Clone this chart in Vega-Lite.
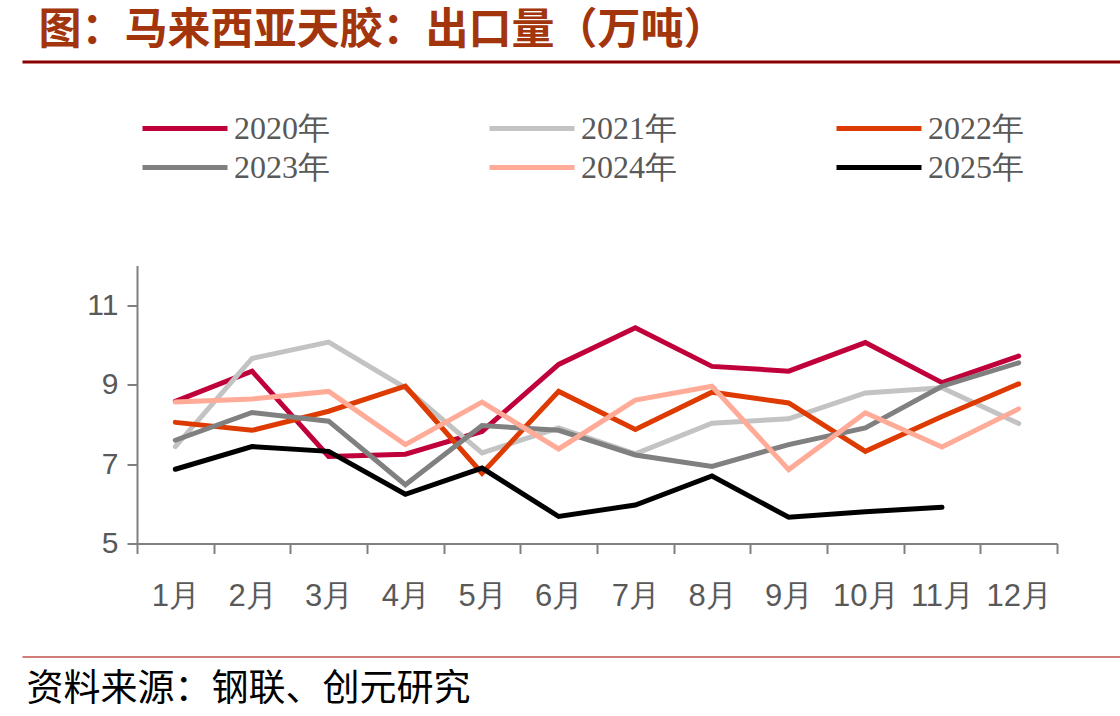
{
  "$schema": "https://vega.github.io/schema/vega-lite/v6.json",
  "width": 920,
  "height": 278,
  "autosize": {"type": "none"},
  "padding": {"left": 137, "top": 265.5, "right": 63, "bottom": 172.5},
  "background": "white",
  "config": {"view": {"stroke": null}},
  "data": {
    "values": [
      {"month": "1月", "year": "2020年", "value": 8.58},
      {"month": "2月", "year": "2020年", "value": 9.34},
      {"month": "3月", "year": "2020年", "value": 7.19},
      {"month": "4月", "year": "2020年", "value": 7.25},
      {"month": "5月", "year": "2020年", "value": 7.82},
      {"month": "6月", "year": "2020年", "value": 9.51},
      {"month": "7月", "year": "2020年", "value": 10.43},
      {"month": "8月", "year": "2020年", "value": 9.46},
      {"month": "9月", "year": "2020年", "value": 9.34},
      {"month": "10月", "year": "2020年", "value": 10.06},
      {"month": "11月", "year": "2020年", "value": 9.05},
      {"month": "12月", "year": "2020年", "value": 9.72},
      {"month": "1月", "year": "2021年", "value": 7.44},
      {"month": "2月", "year": "2021年", "value": 9.66},
      {"month": "3月", "year": "2021年", "value": 10.07},
      {"month": "4月", "year": "2021年", "value": 8.92},
      {"month": "5月", "year": "2021年", "value": 7.28},
      {"month": "6月", "year": "2021年", "value": 7.91},
      {"month": "7月", "year": "2021年", "value": 7.26},
      {"month": "8月", "year": "2021年", "value": 8.03},
      {"month": "9月", "year": "2021年", "value": 8.14},
      {"month": "10月", "year": "2021年", "value": 8.79},
      {"month": "11月", "year": "2021年", "value": 8.92},
      {"month": "12月", "year": "2021年", "value": 8.02},
      {"month": "1月", "year": "2022年", "value": 8.05},
      {"month": "2月", "year": "2022年", "value": 7.85},
      {"month": "3月", "year": "2022年", "value": 8.33},
      {"month": "4月", "year": "2022年", "value": 8.96},
      {"month": "5月", "year": "2022年", "value": 6.77},
      {"month": "6月", "year": "2022年", "value": 8.83},
      {"month": "7月", "year": "2022年", "value": 7.87},
      {"month": "8月", "year": "2022年", "value": 8.81},
      {"month": "9月", "year": "2022年", "value": 8.54},
      {"month": "10月", "year": "2022年", "value": 7.32},
      {"month": "11月", "year": "2022年", "value": 8.2},
      {"month": "12月", "year": "2022年", "value": 9.02},
      {"month": "1月", "year": "2023年", "value": 7.6},
      {"month": "2月", "year": "2023年", "value": 8.3},
      {"month": "3月", "year": "2023年", "value": 8.08},
      {"month": "4月", "year": "2023年", "value": 6.48},
      {"month": "5月", "year": "2023年", "value": 7.97},
      {"month": "6月", "year": "2023年", "value": 7.85},
      {"month": "7月", "year": "2023年", "value": 7.23},
      {"month": "8月", "year": "2023年", "value": 6.94},
      {"month": "9月", "year": "2023年", "value": 7.49},
      {"month": "10月", "year": "2023年", "value": 7.91},
      {"month": "11月", "year": "2023年", "value": 8.96},
      {"month": "12月", "year": "2023年", "value": 9.55},
      {"month": "1月", "year": "2024年", "value": 8.56},
      {"month": "2月", "year": "2024年", "value": 8.64},
      {"month": "3月", "year": "2024年", "value": 8.83},
      {"month": "4月", "year": "2024年", "value": 7.49},
      {"month": "5月", "year": "2024年", "value": 8.56},
      {"month": "6月", "year": "2024年", "value": 7.38},
      {"month": "7月", "year": "2024年", "value": 8.61},
      {"month": "8月", "year": "2024年", "value": 8.96},
      {"month": "9月", "year": "2024年", "value": 6.86},
      {"month": "10月", "year": "2024年", "value": 8.29},
      {"month": "11月", "year": "2024年", "value": 7.43},
      {"month": "12月", "year": "2024年", "value": 8.39},
      {"month": "1月", "year": "2025年", "value": 6.87},
      {"month": "2月", "year": "2025年", "value": 7.44},
      {"month": "3月", "year": "2025年", "value": 7.32},
      {"month": "4月", "year": "2025年", "value": 6.24},
      {"month": "5月", "year": "2025年", "value": 6.9},
      {"month": "6月", "year": "2025年", "value": 5.68},
      {"month": "7月", "year": "2025年", "value": 5.97},
      {"month": "8月", "year": "2025年", "value": 6.7},
      {"month": "9月", "year": "2025年", "value": 5.66},
      {"month": "10月", "year": "2025年", "value": 5.8},
      {"month": "11月", "year": "2025年", "value": 5.91}
    ]
  },
  "resolve": {"scale": {"x": "independent"}, "axis": {"x": "independent"}},
  "layer": [
    {
      "mark": {"type": "line", "strokeWidth": 5, "strokeJoin": "miter", "strokeCap": "round"},
      "encoding": {
        "x": {
          "field": "month",
          "type": "ordinal",
          "bandPosition": 0.5,
          "scale": {"type": "band", "domain": ["1月","2月","3月","4月","5月","6月","7月","8月","9月","10月","11月","12月"], "paddingInner": 0, "paddingOuter": 0},
          "axis": {
            "title": null,
            "labelAngle": 0,
            "tickBand": "extent",
            "tickSize": 10,
            "tickWidth": 2,
            "tickColor": "#808080",
            "domainColor": "#808080",
            "domainWidth": 2,
            "labelFont": "Liberation Sans",
            "labelFontSize": 31,
            "labelColor": "#595959",
            "labelPadding": 28,
            "labelOverlap": false,
            "grid": false
          }
        },
        "y": {
          "field": "value",
          "type": "quantitative",
          "scale": {"domain": [5, 12], "nice": false, "zero": false},
          "axis": {
            "title": null,
            "values": [5, 7, 9, 11],
            "tickSize": 10,
            "tickWidth": 2,
            "tickColor": "#808080",
            "domainColor": "#808080",
            "domainWidth": 2,
            "labelFont": "Liberation Sans",
            "labelFontSize": 30,
            "labelColor": "#595959",
            "labelPadding": 9,
            "grid": false
          }
        },
        "color": {
          "field": "year",
          "type": "nominal",
          "scale": {
            "domain": ["2020年","2021年","2022年","2023年","2024年","2025年"],
            "range": ["#C0003A","#C3C3C3","#DE3B02","#808080","#FFAB98","#000000"]
          },
          "legend": {
            "title": null,
            "orient": "none",
            "legendX": 3,
            "legendY": -152,
            "direction": "horizontal",
            "columns": 3,
            "columnPadding": 157,
            "rowPadding": 7,
            "clipHeight": 30,
            "padding": 0,
            "symbolType": "stroke",
            "symbolSize": 7225,
            "symbolStrokeWidth": 5,
            "labelOffset": 4,
            "labelFont": "Liberation Serif",
            "labelFontSize": 32,
            "labelColor": "#595959"
          }
        }
      }
    },
    {
      "mark": {"type": "rule", "opacity": 0},
      "encoding": {
        "x": {
          "datum": 0,
          "type": "quantitative",
          "scale": {"domain": [0, 1], "range": [-115, 983]},
          "axis": {
            "orient": "top",
            "offset": 204,
            "ticks": false,
            "labels": false,
            "grid": false,
            "domainColor": "#8B0000",
            "domainWidth": 3,
            "title": "图：马来西亚天胶：出口量（万吨）",
            "titleX": -99,
            "titleY": -31,
            "titleAlign": "left",
            "titleBaseline": "middle",
            "titleAngle": 0,
            "titleFont": "Noto Sans CJK SC",
            "titleFontWeight": "bold",
            "titleFontSize": 43,
            "titleColor": "#A3350C"
          }
        }
      }
    },
    {
      "mark": {"type": "rule", "opacity": 0},
      "encoding": {
        "x": {
          "datum": 0,
          "type": "quantitative",
          "scale": {"domain": [0, 1], "range": [-115, 983]},
          "axis": {
            "orient": "bottom",
            "offset": 113,
            "ticks": false,
            "labels": false,
            "grid": false,
            "domainColor": "#C0504D",
            "domainWidth": 1.5,
            "title": "资料来源：钢联、创元研究",
            "titleX": -111,
            "titleY": 33,
            "titleAlign": "left",
            "titleBaseline": "middle",
            "titleAngle": 0,
            "titleFont": "Noto Sans CJK SC",
            "titleFontWeight": "normal",
            "titleFontSize": 37,
            "titleColor": "#000000"
          }
        }
      }
    }
  ]
}
